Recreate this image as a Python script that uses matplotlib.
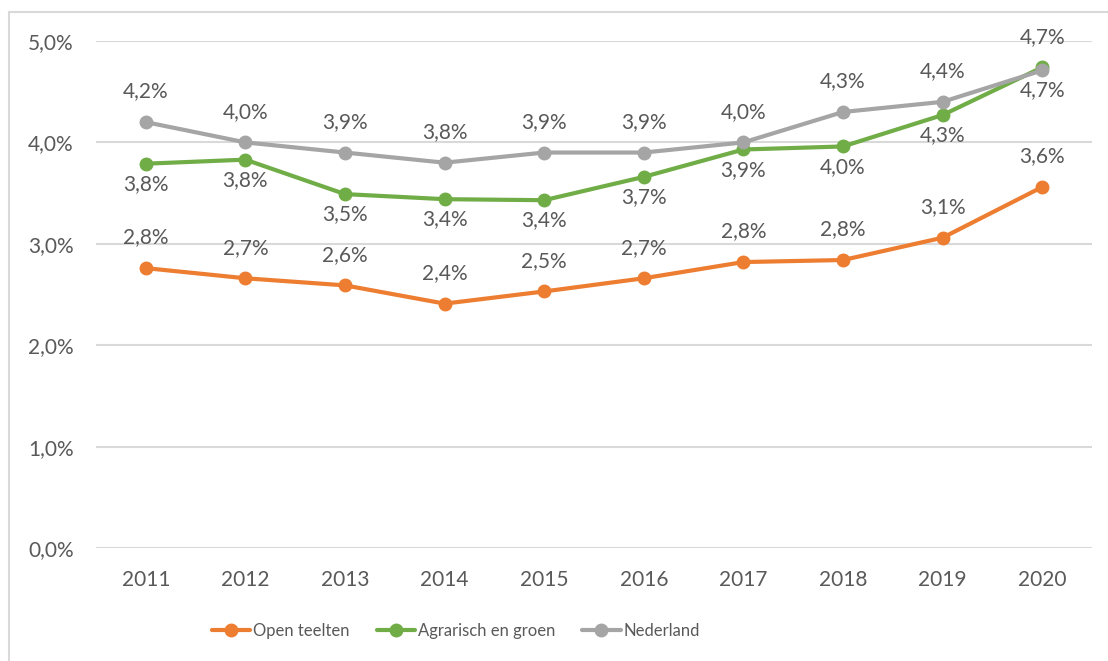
import matplotlib
matplotlib.use('Agg')
import matplotlib.pyplot as plt
from matplotlib.patches import Rectangle

# Data
years = ['2011', '2012', '2013', '2014', '2015', '2016', '2017', '2018', '2019', '2020']
open_teelten = [2.76, 2.66, 2.59, 2.41, 2.53, 2.66, 2.82, 2.84, 3.06, 3.56]
agrarisch = [3.79, 3.83, 3.49, 3.44, 3.43, 3.66, 3.93, 3.96, 4.27, 4.74]
nederland = [4.2, 4.0, 3.9, 3.8, 3.9, 3.9, 4.0, 4.3, 4.4, 4.71]

plt.rcParams['font.family'] = ['Lato', 'DejaVu Sans']
TXT = '#595959'
GRID = '#D9D9D9'
FS = 15

W, H = 1108, 661
fig = plt.figure(figsize=(W / 100, H / 100), dpi=100, facecolor='white')
ax = fig.add_axes([96 / W, 1 - 548 / H, (1092 - 96) / W, (548 - 41) / H])

x = list(range(len(years)))
series = [
    (open_teelten, '#ED7D31', 'Open teelten'),
    (agrarisch, '#70AD47', 'Agrarisch en groen'),
    (nederland, '#A5A5A5', 'Nederland'),
]
for vals, col, name in series:
    ax.plot(x, vals, color=col, lw=3, marker='o', markersize=9, label=name,
            solid_capstyle='round', zorder=3)

def fmt(v):
    return f'{v:.1f}'.replace('.', ',') + '%'

def label(vals, pos):
    for i, v in enumerate(vals):
        dy = 22 if pos[i] == 'a' else -14.5
        ax.annotate(fmt(v), (i, v), xytext=(0, dy), textcoords='offset points',
                    ha='center', va='center', fontsize=FS, color=TXT, zorder=4)

label(open_teelten, 'a' * 10)
label(agrarisch, 'b' * 9 + 'a')
label(nederland, 'a' * 9 + 'b')

ax.set_xlim(-0.5, len(years) - 0.5)
ax.set_ylim(0, 5)
ax.set_xticks(x)
ax.set_xticklabels(years)
ax.set_yticks([0, 1, 2, 3, 4, 5])
ax.set_yticklabels([fmt(v) for v in [0, 1, 2, 3, 4, 5]])
ax.tick_params(length=0, labelsize=FS, colors=TXT)
ax.tick_params(axis='y', pad=16)
ax.tick_params(axis='x', pad=16)
for s in ax.spines.values():
    s.set_visible(False)
ax.yaxis.grid(True, color=GRID, lw=1.5)
ax.set_axisbelow(True)

fig.legend(loc='center', bbox_to_anchor=(456 / W, 1 - 631 / H), ncol=3,
           frameon=False, fontsize=12, labelcolor=TXT, handlelength=2.3,
           handletextpad=0.2, columnspacing=1.6)

# chart frame (cropped on right and bottom)
fig.patches.append(Rectangle((9 / W, -0.05), 1.2, 1 - 12 / H + 0.05,
                             transform=fig.transFigure, fill=False,
                             edgecolor=GRID, lw=1.5))

plt.savefig('out.png', dpi=100, facecolor='white')
plt.close()
